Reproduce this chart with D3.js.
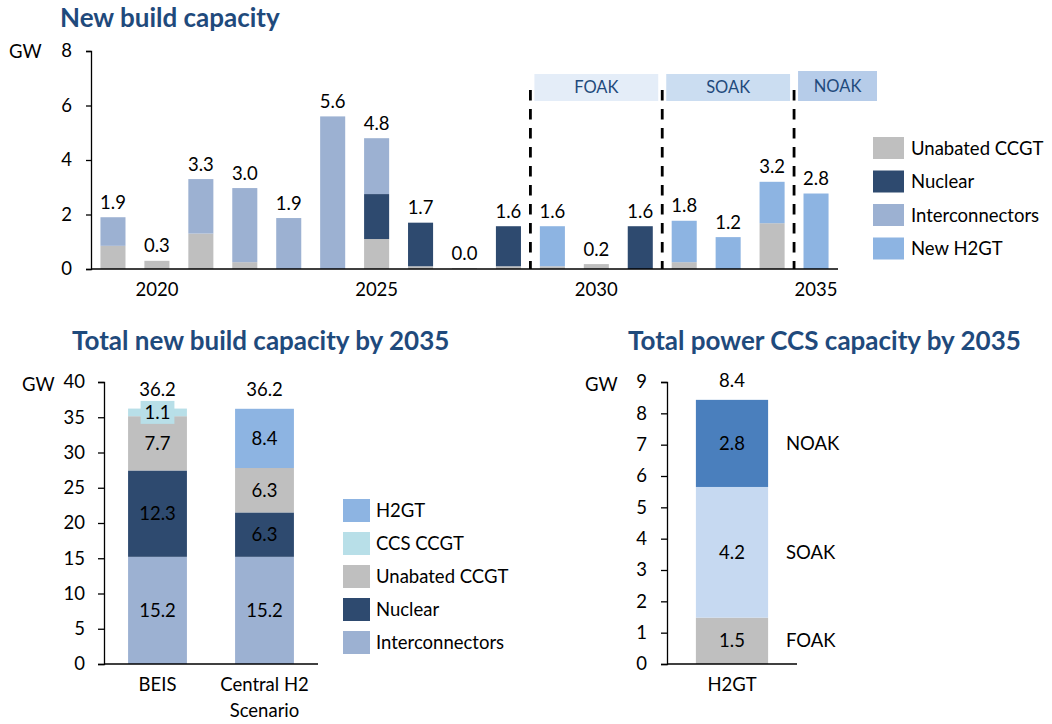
<!DOCTYPE html>
<html>
<head>
<meta charset="utf-8">
<script src="https://cdn.jsdelivr.net/npm/d3@7"></script>
<style>
  body { margin: 0; background: #fff; }
  svg { display: block; font-family: Lato, "Open Sans", sans-serif; }
  .title { font-weight: bold; fill: #1f4a7c; font-size: 26px; }
  .tick text { font-size: 18.5px; fill: #000; font-family: Lato, sans-serif; }
  .axis path, .axis line { stroke: #000; stroke-width: 1.3; }
  .lbl { font-size: 18.5px; fill: #000; }
  .leg { font-size: 18.5px; fill: #000; }
</style>
</head>
<body>
<div id="render-here"></div>
<script>
// ---- top chart data: new build capacity per year (GW)
const years = [2019, 2020, 2021, 2022, 2023, 2024, 2025, 2026, 2027, 2028, 2029, 2030, 2031, 2032, 2033, 2034, 2035];
const unabatedCCGT = [0.85, 0.3, 1.3, 0.25, 0, 0, 1.1, 0.1, 0.03, 0.1, 0.1, 0.18, 0, 0.25, 0, 1.68, 0];
const nuclear = [0, 0, 0, 0, 0, 0, 1.65, 1.6, 0, 1.47, 0, 0, 1.57, 0, 0, 0, 0];
const interconnectors = [1.05, 0, 2.0, 2.72, 1.87, 5.6, 2.05, 0, 0, 0, 0, 0, 0, 0, 0, 0, 0];
const newH2GT = [0, 0, 0, 0, 0, 0, 0, 0, 0, 0, 1.47, 0, 0, 1.52, 1.17, 1.52, 2.77];
const topTickYears = [2020, 2025, 2030, 2035];
const topYTicks = [0, 2, 4, 6, 8];
const phases = ['FOAK', 'SOAK', 'NOAK'];
const phaseFirstYear = [2029, 2032, 2035];
const phaseLastYear = [2031, 2034, 2035];

// ---- bottom left: total new build by 2035
const scenarios = ['BEIS', 'Central H2 Scenario'];
const scnInterconnectors = [15.2, 15.2];
const scnNuclear = [12.25, 6.3];
const scnUnabated = [7.7, 6.3];
const scnCCS = [1.08, 0];
const scnH2GT = [0, 8.4];

// ---- bottom right: total power CCS capacity
const h2Category = ['H2GT'];
const h2Phases = ['FOAK', 'SOAK', 'NOAK'];
const h2PhaseValues = [1.48, 4.17, 2.78];

const colors = {
    unabated: '#bfbfbf',
    nuclear: '#2e4a6f',
    interconnectors: '#9cb1d2',
    h2gt: '#8db4e2',
    ccs: '#b8dfe8',
    FOAK: '#bfbfbf',
    SOAK: '#c6d9f1',
    NOAK: '#4a7fbd'
};
const phaseBoxColors = { FOAK: '#e4edf8', SOAK: '#cbddf1', NOAK: '#b6cce9' };

const fmt = d3.format('.1f');

const svg = d3.select('#render-here').append('svg')
    .attr('width', 1052)
    .attr('height', 724);

/* ============ top chart ============ */
{
    const table = years.map((y, i) => ({
        year: y,
        unabated: unabatedCCGT[i],
        nuclear: nuclear[i],
        interconnectors: interconnectors[i],
        h2gt: newH2GT[i]
    }));
    const keys = ['unabated', 'nuclear', 'interconnectors', 'h2gt'];
    const series = d3.stack().keys(keys)(table);

    const x = d3.scaleBand().domain(years).range([91, 838]).paddingInner(0.43).paddingOuter(0.215);
    const y = d3.scaleLinear().domain([0, 8]).range([269, 51]);

    svg.append('text').attr('class', 'title').attr('x', 60).attr('y', 27).text('New build capacity');
    svg.append('text').attr('class', 'lbl').attr('x', 9).attr('y', 58).text('GW');

    // phase boxes
    const gap = x.step() * x.paddingInner() / 2;
    svg.append('g').selectAll('g')
        .data(phases)
        .join('g')
        .each(function(p, i){
            const g = d3.select(this);
            const x0 = x(phaseFirstYear[i]) - gap + 4;
            const x1 = p === 'NOAK' ? x.range()[1] + 39 : x(phaseLastYear[i]) + x.bandwidth() + gap - 4;
            const top = p === 'NOAK' ? 71 : 74;
            g.append('rect')
                .attr('x', x0).attr('y', top)
                .attr('width', x1 - x0).attr('height', 101 - top)
                .attr('fill', phaseBoxColors[p]);
            g.append('text')
                .attr('x', (x0 + x1) / 2).attr('y', (top + 101) / 2)
                .attr('dy', '0.36em')
                .attr('text-anchor', 'middle')
                .attr('fill', '#1f4a7c')
                .style('font-size', '16.5px')
                .text(p);
        });

    svg.append('g')
        .selectAll('g')
        .data(series)
        .join('g')
            .attr('fill', d => colors[d.key])
        .selectAll('rect')
        .data(d => d)
        .join('rect')
            .attr('x', d => x(d.data.year))
            .attr('width', x.bandwidth())
            .attr('y', d => y(d[1]))
            .attr('height', d => y(d[0]) - y(d[1]));

    svg.append('g')
        .selectAll('text')
        .data(table)
        .join('text')
            .attr('class', 'lbl')
            .attr('text-anchor', 'middle')
            .attr('x', d => x(d.year) + x.bandwidth() / 2)
            .attr('y', d => y(d3.sum(keys, k => d[k])) - 8.5)
            .text(d => fmt(d3.sum(keys, k => d[k])));

    // dashed phase separators
    svg.append('g')
        .selectAll('line')
        .data(phaseFirstYear)
        .join('line')
            .attr('x1', d => x(d) - gap)
            .attr('x2', d => x(d) - gap)
            .attr('y1', 90)
            .attr('y2', y(0))
            .attr('stroke', '#000')
            .attr('stroke-width', 2.8)
            .attr('stroke-dasharray', '10.5 8.5');

    svg.append('g')
        .attr('class', 'axis')
        .attr('transform', `translate(91,0)`)
        .call(d3.axisLeft(y).tickValues(topYTicks).tickSize(5).tickPadding(14));

    const xAxis = svg.append('g')
        .attr('class', 'axis')
        .attr('transform', `translate(0,${y(0)})`)
        .call(d3.axisBottom(x).tickValues(topTickYears).tickSize(0).tickPadding(14));
    xAxis.select('.domain').attr('d', `M91,0H838`);
}

/* ============ legend (top) ============ */
{
    const items = [
        ['unabated', 'Unabated CCGT'],
        ['nuclear', 'Nuclear'],
        ['interconnectors', 'Interconnectors'],
        ['h2gt', 'New H2GT']
    ];
    const g = svg.append('g').selectAll('g')
        .data(items)
        .join('g')
        .attr('transform', (d, i) => `translate(873,${137 + i * 33.5})`);
    g.append('rect').attr('width', 31).attr('height', 22).attr('fill', d => colors[d[0]]);
    g.append('text').attr('class', 'leg').attr('x', 38).attr('y', 11).attr('dy', '0.36em').text(d => d[1]);
}

/* ============ bottom left ============ */
{
    const table = scenarios.map((s, i) => ({
        name: s,
        interconnectors: scnInterconnectors[i],
        nuclear: scnNuclear[i],
        unabated: scnUnabated[i],
        ccs: scnCCS[i],
        h2gt: scnH2GT[i]
    }));
    const keys = ['interconnectors', 'nuclear', 'unabated', 'ccs', 'h2gt'];
    const series = d3.stack().keys(keys)(table);

    const x = d3.scaleBand().domain(scenarios).range([104, 318]).paddingInner(0.45).paddingOuter(0.225);
    const y = d3.scaleLinear().domain([0, 40]).range([664, 382]);

    svg.append('text').attr('class', 'title').attr('x', 72).attr('y', 350).text('Total new build capacity by 2035');
    svg.append('text').attr('class', 'lbl').attr('x', 22).attr('y', 391).text('GW');

    const seg = svg.append('g')
        .selectAll('g')
        .data(series)
        .join('g');
    seg.selectAll('rect')
        .data(d => d.map(v => Object.assign(v, { key: d.key })))
        .join('rect')
            .attr('fill', d => colors[d.key])
            .attr('x', d => x(d.data.name))
            .attr('width', x.bandwidth())
            .attr('y', d => y(d[1]))
            .attr('height', d => y(d[0]) - y(d[1]));

    const labels = svg.append('g')
        .selectAll('g')
        .data(series.flat().filter(d => d.data[d.key] > 0))
        .join('g')
        .attr('transform', d => `translate(${x(d.data.name) + x.bandwidth() / 2},${y((d[0] + d[1]) / 2)})`);
    labels.append('text')
        .attr('class', 'lbl')
        .attr('text-anchor', 'middle')
        .attr('dy', '0.36em')
        .attr('fill', d => d.key === 'nuclear' ? '#fff' : '#000')
        .text(d => fmt(d.data[d.key]));
    // small segment gets a filled label box
    labels.filter(d => d.key === 'ccs').each(function(d){
        const g = d3.select(this);
        const bb = g.select('text').node().getBBox();
        g.insert('rect', 'text')
            .attr('x', bb.x - 4).attr('y', -11.5)
            .attr('width', bb.width + 8).attr('height', 23)
            .attr('fill', colors.ccs);
    });

    svg.append('g')
        .selectAll('text')
        .data(table)
        .join('text')
            .attr('class', 'lbl')
            .attr('text-anchor', 'middle')
            .attr('x', d => x(d.name) + x.bandwidth() / 2)
            .attr('y', d => y(d3.sum(keys, k => d[k])) - 13)
            .text(d => fmt(d3.sum(keys, k => d[k])));

    svg.append('g')
        .attr('class', 'axis')
        .attr('transform', 'translate(104,0)')
        .call(d3.axisLeft(y).ticks(8).tickSize(6).tickPadding(13));

    const xAxis = svg.append('g')
        .attr('class', 'axis')
        .attr('transform', `translate(0,${y(0)})`)
        .call(d3.axisBottom(x).tickSize(0).tickPadding(14));
    xAxis.select('.domain').attr('d', 'M104,0H318');
    xAxis.selectAll('.tick text').each(function(d){
        const t = d3.select(this);
        if (d === 'Central H2 Scenario') {
            t.text(null);
            t.append('tspan').attr('x', 0).text('Central H2');
            t.append('tspan').attr('x', 0).attr('dy', '1.4em').text('Scenario');
        }
    });

    // legend
    const items = [
        ['h2gt', 'H2GT'],
        ['ccs', 'CCS CCGT'],
        ['unabated', 'Unabated CCGT'],
        ['nuclear', 'Nuclear'],
        ['interconnectors', 'Interconnectors']
    ];
    const lg = svg.append('g').selectAll('g')
        .data(items)
        .join('g')
        .attr('transform', (d, i) => `translate(343,${499 + i * 33})`);
    lg.append('rect').attr('width', 27).attr('height', 23).attr('fill', d => colors[d[0]]);
    lg.append('text').attr('class', 'leg').attr('x', 33).attr('y', 11.5).attr('dy', '0.36em').text(d => d[1]);
}

/* ============ bottom right ============ */
{
    const row = { name: h2Category[0] };
    h2Phases.forEach((p, i) => { row[p] = h2PhaseValues[i]; });
    const series = d3.stack().keys(h2Phases)([row]);

    const x = d3.scaleBand().domain(h2Category).range([667, 797]).paddingOuter(0.4);
    const y = d3.scaleLinear().domain([0, 9]).range([664, 382]);

    svg.append('text').attr('class', 'title').attr('x', 628).attr('y', 350).text('Total power CCS capacity by 2035');
    svg.append('text').attr('class', 'lbl').attr('x', 585).attr('y', 391).text('GW');

    const segs = series.map(s => Object.assign(s[0], { key: s.key }));

    svg.append('g')
        .selectAll('rect')
        .data(segs)
        .join('rect')
            .attr('fill', d => colors[d.key])
            .attr('x', d => x(d.data.name))
            .attr('width', x.bandwidth())
            .attr('y', d => y(d[1]))
            .attr('height', d => y(d[0]) - y(d[1]));

    svg.append('g')
        .selectAll('text')
        .data(segs)
        .join('text')
            .attr('class', 'lbl')
            .attr('text-anchor', 'middle')
            .attr('dy', '0.36em')
            .attr('x', d => x(d.data.name) + x.bandwidth() / 2)
            .attr('y', d => y((d[0] + d[1]) / 2))
            .attr('fill', d => d.key === 'NOAK' ? '#fff' : '#000')
            .text(d => fmt(d.data[d.key]));

    // phase names to the right of the bar
    svg.append('g')
        .selectAll('text')
        .data(segs)
        .join('text')
            .attr('class', 'lbl')
            .attr('dy', '0.36em')
            .attr('x', 786)
            .attr('y', d => y((d[0] + d[1]) / 2))
            .text(d => d.key);

    svg.append('text')
        .attr('class', 'lbl')
        .attr('text-anchor', 'middle')
        .attr('x', x(h2Category[0]) + x.bandwidth() / 2)
        .attr('y', y(d3.sum(h2PhaseValues)) - 13)
        .text(fmt(d3.sum(h2PhaseValues)));

    svg.append('g')
        .attr('class', 'axis')
        .attr('transform', 'translate(667,0)')
        .call(d3.axisLeft(y).ticks(9).tickSize(6).tickPadding(14));

    const xAxis = svg.append('g')
        .attr('class', 'axis')
        .attr('transform', `translate(0,${y(0)})`)
        .call(d3.axisBottom(x).tickSize(0).tickPadding(14));
    xAxis.select('.domain').attr('d', 'M667,0H797');
}
</script>
</body>
</html>
